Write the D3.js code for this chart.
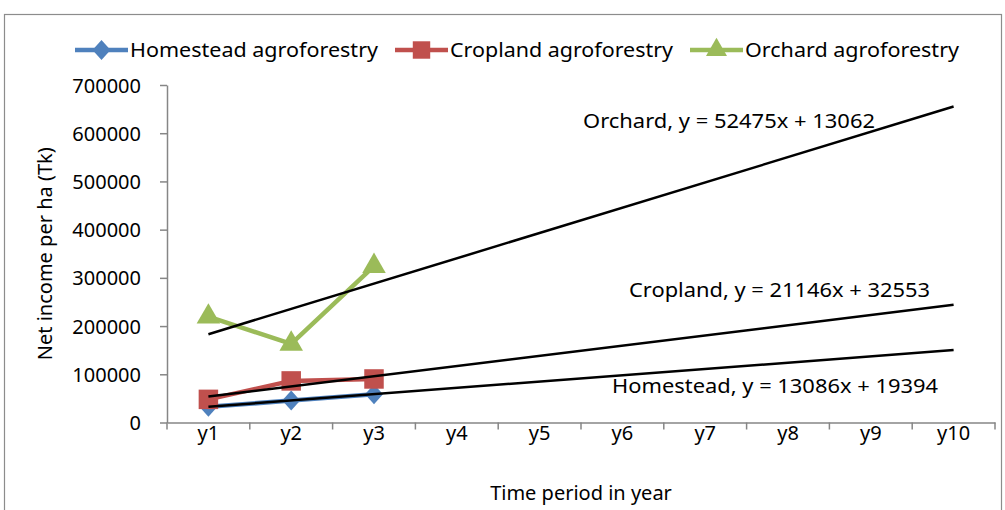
<!DOCTYPE html>
<html><head><meta charset="utf-8">
<script src="https://cdn.jsdelivr.net/npm/d3@7"></script>
<style>
body{margin:0;background:#fff;}
text{font-family:"Noto Sans",sans-serif;fill:#000;}
</style></head>
<body>
<svg id="chart" width="1005" height="510"></svg>
<script>
const categories = ["y1","y2","y3","y4","y5","y6","y7","y8","y9","y10"];
const yTicks = [0,100000,200000,300000,400000,500000,600000,700000];
const seriesNames = ["Homestead agroforestry","Cropland agroforestry","Orchard agroforestry"];
const homestead = [32500, 45500, 58700];
const cropland = [48000, 86243, 90292];
const orchard = [219380, 163000, 324330];
const trendSlopes = [13086, 21146, 52475];
const trendIntercepts = [19394, 32553, 130620];
const trendLabels = ["Homestead, y = 13086x + 19394","Cropland, y = 21146x + 32553","Orchard, y = 52475x + 13062"];
const colors = ["#4F81BD","#C0504D","#9BBB59"];

const svg = d3.select("#chart");
const axisColor = "#868686";
// outer border
svg.append("rect").attr("x",4.5).attr("y",14.5).attr("width",997).attr("height",520)
  .attr("fill","none").attr("stroke","#8c8c8c").attr("stroke-width",1.2);

const pL=167, pR=995, pT=85, pB=422.5;
const x = d3.scaleBand().domain(categories).range([pL,pR]);
const xc = c => x(c)+x.bandwidth()/2;
const y = d3.scaleLinear().domain([0,700000]).range([pB,pT]);

// y axis
const ya = svg.append("g").attr("transform",`translate(${pL},0)`)
  .call(d3.axisLeft(y).tickValues(yTicks).tickSize(7).tickSizeOuter(0).tickFormat(d3.format("d")));
ya.select(".domain").attr("stroke",axisColor).attr("stroke-width",1.5);
ya.selectAll(".tick line").attr("stroke",axisColor).attr("stroke-width",1.5);
ya.selectAll(".tick text").attr("x",-26).attr("dy","0.35em").style("font-size","20px").style("font-family","Noto Sans");

// x axis
const xa = svg.append("g").attr("transform",`translate(0,${pB})`)
  .call(d3.axisBottom(x).tickSize(0).tickSizeOuter(0));
xa.select(".domain").attr("stroke",axisColor).attr("stroke-width",1.5);
xa.selectAll(".tick text").attr("y",3).attr("dy","0.71em").style("font-size","20px").style("font-family","Noto Sans");
// band boundary ticks
const bounds = categories.map(c=>x(c)).concat([pR]);
svg.append("g").selectAll("line").data(bounds).join("line")
  .attr("x1",d=>d).attr("x2",d=>d).attr("y1",pB).attr("y2",pB+7)
  .attr("stroke",axisColor).attr("stroke-width",1.5);

// axis titles
svg.append("text").attr("transform",`translate(52,${(pT+pB)/2}) rotate(-90)`)
  .attr("text-anchor","middle").style("font-size","20px").text("Net income per ha (Tk)");
svg.append("text").attr("x",(pL+pR)/2).attr("y",500).attr("text-anchor","middle")
  .style("font-size","20px").text("Time period in year");

// marker shapes
const diamond = {draw(ctx,size){const w=9,h=10;ctx.moveTo(0,-h);ctx.lineTo(w,0);ctx.lineTo(0,h);ctx.lineTo(-w,0);ctx.closePath();}};
const symbols = [diamond, d3.symbolSquare, d3.symbolTriangle];
const symSizes = [150, 380, 240];

// series
const allSeries = [homestead, cropland, orchard];
const line = d3.line().x((d,i)=>xc(categories[i])).y(d=>y(d));
allSeries.forEach((s,k)=>{
  svg.append("path").datum(s).attr("d",line).attr("fill","none")
    .attr("stroke",colors[k]).attr("stroke-width",4.5).attr("stroke-linejoin","round");
});
allSeries.forEach((s,k)=>{
  svg.append("g").selectAll("path").data(s).join("path")
    .attr("transform",(d,i)=>`translate(${xc(categories[i])},${y(d)})`)
    .attr("d",d3.symbol().type(symbols[k]).size(symSizes[k])).attr("fill",colors[k]);
});

// trendlines from x=1 to x=10
[0,1,2].forEach(k=>{
  const pts=[1,categories.length];
  svg.append("path").attr("d", d3.line().x(d=>xc(categories[d-1])).y(d=>y(trendSlopes[k]*d+trendIntercepts[k]))(pts))
    .attr("stroke","#000").attr("stroke-width",2.5).attr("fill","none");
});

// trendline labels
const labelPos = [[612,393],[629,297],[583,128]];
const labelW = [326,301,292];
trendLabels.forEach((t,k)=>{
  svg.append("text").attr("x",labelPos[k][0]).attr("y",labelPos[k][1])
    .style("font-size","19px").attr("textLength",labelW[k]).attr("lengthAdjust","spacingAndGlyphs").text(t);
});

// legend
const legX = [75,395,690];
const legW = [248,223,214];
seriesNames.forEach((n,k)=>{
  const g = svg.append("g");
  g.append("line").attr("x1",legX[k]).attr("x2",legX[k]+53).attr("y1",50).attr("y2",50)
    .attr("stroke",colors[k]).attr("stroke-width",4.5);
  g.append("path").attr("transform",`translate(${legX[k]+26.5},50)`)
    .attr("d",d3.symbol().type(symbols[k]).size(symSizes[k]*0.8)).attr("fill",colors[k]);
  g.append("text").attr("x",legX[k]+55).attr("y",57).style("font-size","20px")
    .attr("textLength",legW[k]).attr("lengthAdjust","spacingAndGlyphs").text(n);
});
</script>
</body></html>
